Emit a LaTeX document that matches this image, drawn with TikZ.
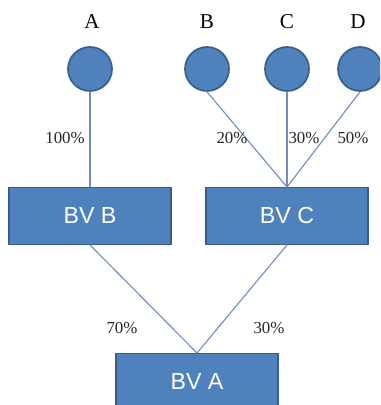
\documentclass[tikz,border=0pt]{standalone}
\usepackage{fontspec}
\setmainfont{Liberation Serif}
\setsansfont{Liberation Sans}
\usepackage{tikz}
\usetikzlibrary{arrows}

\definecolor{boxblue}{HTML}{4F81BD}
\definecolor{boxedge}{HTML}{385D8A}
\definecolor{linkblue}{HTML}{6F8DC0}

\begin{document}
\begin{tikzpicture}[line cap=round,line join=round,x=0.025cm,y=-0.025cm,
        owner/.style={circle,draw=boxedge,fill=boxblue,line width=1.2pt,minimum size=1.1cm,inner sep=0pt},
        bv/.style={rectangle,draw=boxedge,fill=boxblue,line width=0.8pt,minimum width=4.05cm,minimum height=1.42cm,
            text=white,font=\sffamily\fontsize{16.5}{18}\selectfont},
        link/.style={draw=linkblue,line width=0.8pt},
        pct/.style={font=\fontsize{12}{14}\selectfont,text=black!85}]
        \useasboundingbox (0,0) rectangle (380,405);
        \clip (0,0) rectangle (380,405);
        % shareholders
        \node[owner] (A) at (90,69) {};
        \node[owner] (B) at (207,69) {};
        \node[owner] (C) at (287,69) {};
        \node[owner] (D) at (360,69) {};
        \node[font=\fontsize{15}{17}\selectfont] (la) at (92,22) {A};
        \node[font=\fontsize{15}{17}\selectfont] (lb) at (207,22) {B};
        \node[font=\fontsize{15}{17}\selectfont] (lc) at (287,22) {C};
        \node[font=\fontsize{15}{17}\selectfont] (ld) at (358,22) {D};
        % companies
        \node[bv] (BVB) at (90,216) {BV B};
        \node[bv] (BVC) at (287,216) {BV C};
        \node[bv] (BVA) at (197,382) {BV A};
        % links
        \draw[link] (A.south) -- (BVB.north);
        \draw[link] (B.south) -- (BVC.north);
        \draw[link] (C.south) -- (BVC.north);
        \draw[link] (D.south) -- (BVC.north);
        \draw[link] (BVB.south) -- (BVA.north);
        \draw[link] (BVC.south) -- (BVA.north);
        % percentages
        \node[pct] (p1) at (65,138) {100\%};
        \node[pct] (p2) at (232,138) {20\%};
        \node[pct] (p3) at (304,138) {30\%};
        \node[pct] (p4) at (353,138) {50\%};
        \node[pct] (p5) at (122,328) {70\%};
        \node[pct] (p6) at (269,328) {30\%};
    \end{tikzpicture}
\end{document}
